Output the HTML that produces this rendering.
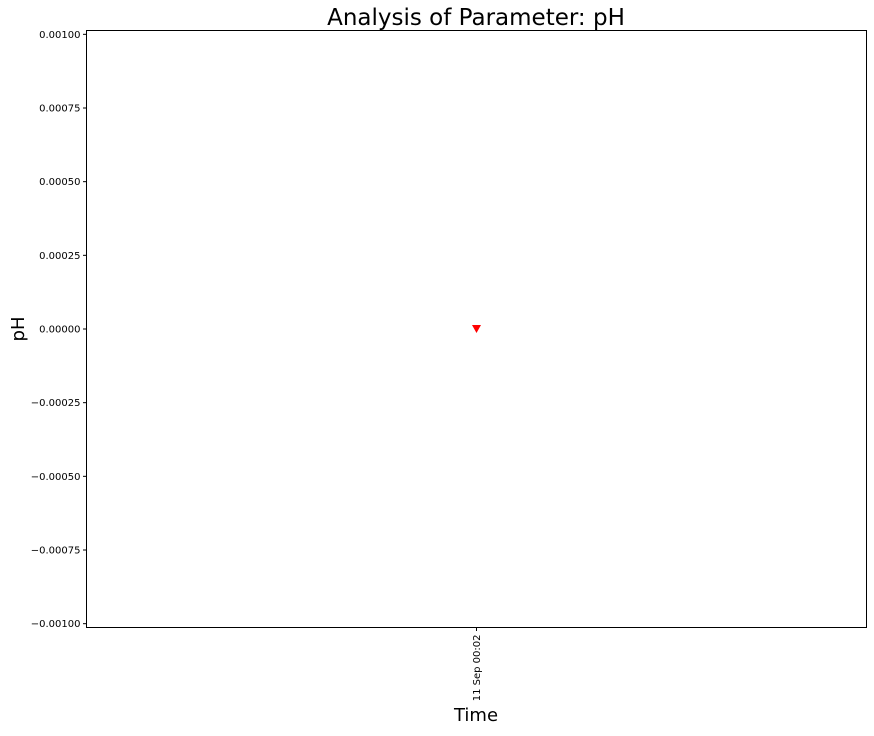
<!DOCTYPE html>
<html><head><meta charset="utf-8"><style>
html,body{margin:0;padding:0;background:#fff;}
svg text{font-family:"DejaVu Sans","Liberation Sans",sans-serif;}
</style></head><body>
<svg width="874" height="731" xmlns="http://www.w3.org/2000/svg">
<rect width="874" height="731" fill="#fff"/>
<text x="476" y="25" font-size="23" text-anchor="middle">Analysis of Parameter: pH</text>
<g id="yticks"></g>
<g id="xticks"></g>
<g id="marks"></g>
<rect x="86.5" y="30.5" width="780" height="597" fill="none" stroke="#000" stroke-width="1"/>
<text transform="translate(24,329) rotate(-90)" font-size="18" text-anchor="middle">pH</text>
<text x="476" y="721" font-size="18" text-anchor="middle">Time</text>
</svg>
<script>
const yTicks=[0.001,0.00075,0.0005,0.00025,0,-0.00025,-0.0005,-0.00075,-0.001];
const yTickLabels=["0.00100","0.00075","0.00050","0.00025","0.00000","\u22120.00025","\u22120.00050","\u22120.00075","\u22120.00100"];
const xCategories=["11 Sep 00:02"];
const values=[0];
const NS="http://www.w3.org/2000/svg";
const L=86.5,R=866.5,T=30.5,B=627.5;
const yMin=-0.001013,yMax=0.001013;
function yScale(v){return B-(v-yMin)/(yMax-yMin)*(B-T);}
function xScale(i){return L+(i+0.5)/xCategories.length*(R-L);}
function mk(tag,attrs,parent){const e=document.createElementNS(NS,tag);for(const k in attrs)e.setAttribute(k,attrs[k]);parent.appendChild(e);return e;}
const yg=document.getElementById('yticks');
yTicks.forEach((v,i)=>{
 const y=yScale(v);
 const ln=mk('line',{x1:L-3.5,x2:L,y1:y,y2:y,stroke:'#000'},yg);
 
 
 const t=mk('text',{x:L-6,y:y+3.5,'font-size':10,'text-anchor':'end'},yg);
 t.textContent=yTickLabels[i];
 
 
});
const xg=document.getElementById('xticks');
xCategories.forEach((c,i)=>{
 const x=xScale(i);
 const ln=mk('line',{x1:x,x2:x,y1:B,y2:B+3.5,stroke:'#000'},xg);
 
 
 const t=mk('text',{transform:`translate(${x+3.5},${B+7}) rotate(-90)`,'font-size':10,'text-anchor':'end'},xg);
 t.textContent=c;
 
 
});
const mg=document.getElementById('marks');
values.forEach((v,i)=>{
 const x=xScale(i),y=yScale(v);
 const p=mk('polygon',{points:`${x-4.5},${y-4} ${x+4.5},${y-4} ${x},${y+4}`,fill:'#ff0000'},mg);
 
 
});
</script>
</body></html>
